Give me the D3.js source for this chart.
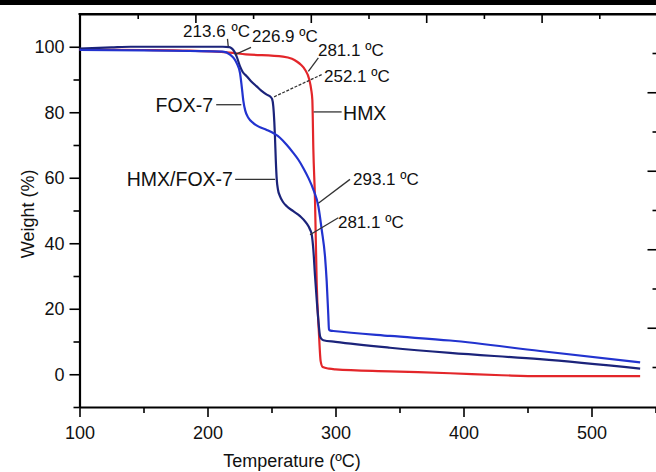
<!DOCTYPE html>
<html>
<head>
<meta charset="utf-8">
<script src="https://cdn.jsdelivr.net/npm/d3@7"></script>
<style>
  body { margin: 0; background: #fff; }
  svg { display: block; font-family: "Liberation Sans", Arial, sans-serif; }
</style>
</head>
<body>
<div id="chart"></div>
<script>
// TGA curves (temperature in ºC, weight in %)
var temp_hmx = [100, 150, 186, 217, 230, 259, 266, 269.7, 273, 276.2, 279.5, 281, 281.9, 282.7, 284, 285.3, 287, 288.4, 290, 295, 300, 342.6, 389.5, 430, 459.8, 538];
var weight_hmx = [99.1, 99.0, 98.8, 98.2, 97.7, 97.0, 96.3, 95.5, 94.5, 93, 90, 87, 83.8, 68.6, 53, 28, 13, 4, 2.2, 1.7, 1.5, 0.9, 0.3, -0.3, -0.6, -0.6];

var temp_fox7 = [100, 150, 186, 212, 217.6, 220.5, 222.8, 225.4, 226.7, 228, 229.5, 231.9, 235.8, 240, 246.3, 256.6, 262, 267, 271, 274.8, 279, 282.7, 286.6, 289.2, 291.8, 293.1, 294.4, 294.9, 296, 298.3, 342.6, 389.5, 459.8, 538];
var weight_fox7 = [99.0, 98.9, 98.7, 98.5, 97.6, 96.5, 95, 92, 88, 83.5, 80.5, 78.3, 76.7, 75.6, 74.6, 72.2, 70, 67.6, 65.5, 63, 59.8, 56.4, 51.3, 44.2, 36, 28.5, 17.8, 13.7, 13.3, 13.2, 11.7, 10.3, 7.1, 3.6];

var temp_mix = [100, 125, 140, 212, 217, 218.9, 221, 222.8, 225.4, 227.5, 230.6, 234, 238.4, 242, 246.3, 249, 250.5, 251.4, 252.2, 252.7, 253.4, 254.1, 255, 256.6, 259, 261.9, 267, 272.3, 277, 280.1, 281.4, 282.7, 284, 285.3, 286.6, 287.9, 289, 290.5, 300, 342.6, 389.5, 459.8, 538];
var weight_mix = [99.4, 99.8, 100, 100, 99.9, 99.5, 98.5, 97, 94, 92.3, 91, 89.5, 87.9, 86.6, 85.4, 84.8, 84, 81.8, 77, 72.6, 65, 59.5, 56.5, 54.4, 52.6, 51.3, 49.8, 48.3, 46.3, 44.2, 42.7, 38, 30, 22.9, 16.5, 11.7, 10.8, 10.4, 9.9, 8.1, 6.5, 4.6, 1.7];

// axis ticks
var x_ticks = [100, 200, 300, 400, 500];
var x_minor = [150, 250, 350, 450, 550];
var y_ticks = [0, 20, 40, 60, 80, 100];
var y_minor = [-10, 10, 30, 50, 70, 90];
var top_ticks = [1, 2, 3, 4, 5, 6, 7, 8, 9];
var right_ticks = [0, 1, 2, 3, 4, 5, 6, 7, 8];

var series = [
  { name: "HMX", temp: temp_hmx, weight: weight_hmx, color: "#e3262a" },
  { name: "HMX/FOX-7", temp: temp_mix, weight: weight_mix, color: "#1b237a" },
  { name: "FOX-7", temp: temp_fox7, weight: weight_fox7, color: "#2233cf" }
];

var width = 656, height = 472;

var svg = d3.select("#chart")
  .append("svg")
  .attr("width", width)
  .attr("height", height);

var x = d3.scaleLinear().domain([100, 550]).range([79.5, 655.5]);
var y = d3.scaleLinear().domain([-10, 110]).range([407, 14]);

// leftover frame of the figure above
svg.append("rect")
  .attr("x", 0).attr("y", 0)
  .attr("width", width).attr("height", 5)
  .attr("fill", "#000");

// top border ticks (belong to a cropped neighbour axis)
var x_top = d3.scaleLinear().domain([0, 10]).range([80, 657]);
var topAxis = svg.append("g")
  .attr("transform", "translate(0," + y(110) + ")")
  .call(d3.axisTop(x_top).tickValues(top_ticks).tickSizeInner(-5).tickSizeOuter(0).tickFormat(""));
topAxis.selectAll(".tick line")
  .attr("y2", function (d) { return d % 2 === 0 ? 9 : 5; });

// right border ticks (cropped secondary axis)
var y_right = d3.scaleLinear().domain([0, 8]).range([367, 53]);
var rightAxis = svg.append("g")
  .attr("transform", "translate(656.5,0)")
  .call(d3.axisRight(y_right).tickValues(right_ticks).tickSizeInner(-4).tickSizeOuter(0).tickFormat(""));
rightAxis.selectAll(".tick line")
  .attr("x2", function (d) { return d % 2 === 1 ? -9 : -4; });
rightAxis.select(".domain").remove();

// X axis
svg.append("g")
  .attr("transform", "translate(0," + y(-10) + ")")
  .call(d3.axisBottom(x).tickValues(x_minor).tickSize(6).tickFormat(""))
  .select(".domain").remove();

var xAxis = svg.append("g")
  .attr("transform", "translate(0," + y(-10) + ")")
  .call(d3.axisBottom(x).tickValues(x_ticks).tickSizeInner(10).tickSizeOuter(0).tickPadding(9));

// Y axis
svg.append("g")
  .attr("transform", "translate(" + x(100) + ",0)")
  .call(d3.axisLeft(y).tickValues(y_minor).tickSize(6).tickFormat(""))
  .select(".domain").remove();

var yAxis = svg.append("g")
  .attr("transform", "translate(" + x(100) + ",0)")
  .call(d3.axisLeft(y).tickValues(y_ticks).tickSizeInner(10).tickSizeOuter(0).tickPadding(5));

svg.selectAll(".domain").attr("stroke-width", 2.2);
svg.selectAll(".tick line").attr("stroke-width", 1.6);
svg.selectAll(".tick text")
  .style("font-size", "18px")
  .style("font-family", "'Liberation Sans', Arial, sans-serif")
  .attr("fill", "#111");

// top frame line
svg.append("line")
  .attr("x1", x(100) - 1).attr("x2", width)
  .attr("y1", y(110)).attr("y2", y(110))
  .attr("stroke", "#000").attr("stroke-width", 2.2);

// axis labels
svg.append("text")
  .attr("x", x(266))
  .attr("y", 467)
  .style("text-anchor", "middle")
  .style("font-size", "18px")
  .attr("fill", "#111")
  .text("Temperature (ºC)");

svg.append("text")
  .attr("transform", "rotate(-90)")
  .attr("x", -y(49))
  .attr("y", 34)
  .style("text-anchor", "middle")
  .style("font-size", "18px")
  .attr("fill", "#111")
  .text("Weight (%)");

// Draw the curves
var line = d3.line()
  .x(function (d) { return x(d[0]); })
  .y(function (d) { return y(d[1]); })
  .curve(d3.curveMonotoneX);

svg.selectAll(".tga-line")
  .data(series)
  .enter()
  .append("path")
  .attr("class", "tga-line")
  .attr("fill", "none")
  .attr("stroke", function (d) { return d.color; })
  .attr("stroke-width", 2.2)
  .attr("d", function (d) {
    return line(d.temp.map(function (t, i) { return [t, d.weight[i]]; }));
  });

// annotations: text at (tx, ty), leader from (x1, y1) to (x2, y2), all in data units
function annotate(label, tx, ty, anchor, size, x1, y1, x2, y2, dash) {
  svg.append("line")
    .attr("x1", x(x1)).attr("y1", y(y1))
    .attr("x2", x(x2)).attr("y2", y(y2))
    .attr("stroke", "#333")
    .attr("stroke-width", 1.3)
    .attr("stroke-dasharray", dash || null);
  svg.append("text")
    .attr("x", x(tx))
    .attr("y", y(ty))
    .style("text-anchor", anchor)
    .style("font-size", size + "px")
    .attr("fill", "#111")
    .text(label);
}

annotate("213.6", 180.9, 102.9, "start", 17, 215.6, 102.4, 216.2, 100.1);
svg.append("text")
  .attr("x", x(218.8)).attr("y", y(102.9))
  .style("font-size", "17px").attr("fill", "#111")
  .text("ºC");
annotate("226.9 ºC", 234.8, 101.4, "start", 17, 234, 99.8, 221.5, 97.6);
annotate("281.1 ºC", 286.3, 97.2, "start", 17, 286.6, 96.6, 278.8, 92.5);
annotate("252.1 ºC", 291, 89.2, "start", 17, 289.2, 91.5, 251.4, 84.6, "3,1.5");
annotate("FOX-7", 204.3, 80.1, "end", 19.5, 206.8, 82.3, 226.4, 82.3);
annotate("HMX", 305.9, 77.6, "start", 19.5, 282.9, 80.1, 304.8, 80.1);
annotate("HMX/FOX-7", 219.9, 57.5, "end", 19.5, 221.6, 59.5, 252.8, 59.5);
annotate("293.1 ºC", 313.7, 57.8, "start", 17, 311.3, 59.5, 286.6, 52.2);
annotate("281.1 ºC", 301.9, 44.7, "start", 17, 302.2, 47.8, 280.1, 42.6);
</script>
</body>
</html>
